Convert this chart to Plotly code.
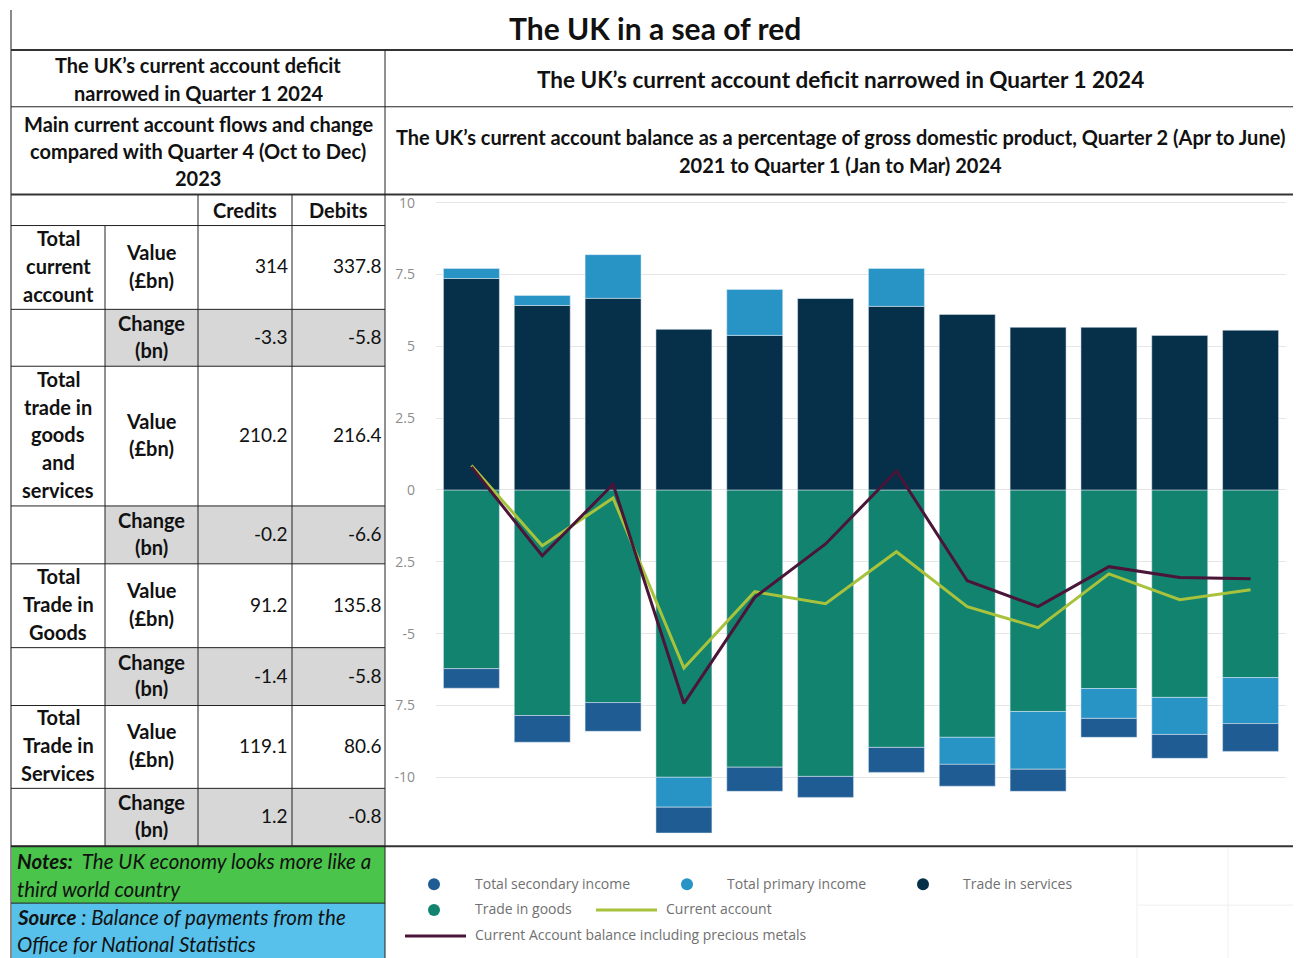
import plotly.graph_objects as go

W, H = 1296, 958

# ---- chart data: % of GDP, Q2 2021 to Q1 2024 ----
quarters = ["2021 Q2", "2021 Q3", "2021 Q4", "2022 Q1", "2022 Q2", "2022 Q3",
            "2022 Q4", "2023 Q1", "2023 Q2", "2023 Q3", "2023 Q4", "2024 Q1"]
trade_in_goods = [-6.22, -7.85, -7.40, -10.00, -9.65, -9.97, -8.96, -8.61, -7.71, -6.91, -7.22, -6.53]
trade_in_services = [7.36, 6.42, 6.67, 5.59, 5.38, 6.67, 6.39, 6.11, 5.66, 5.66, 5.38, 5.56]
primary_income = [0.35, 0.35, 1.52, -1.04, 1.60, 0.00, 1.32, -0.94, -2.01, -1.04, -1.29, -1.60]
secondary_income = [-0.68, -0.93, -1.00, -0.90, -0.84, -0.73, -0.87, -0.76, -0.77, -0.66, -0.83, -0.97]
current_account = [0.85, -1.94, -0.28, -6.20, -3.54, -3.96, -2.15, -4.06, -4.79, -2.92, -3.82, -3.47]
ca_incl_metals = [0.80, -2.29, 0.20, -7.43, -3.74, -1.88, 0.66, -3.16, -4.06, -2.67, -3.05, -3.09]

y_tick_vals = [10, 7.5, 5, 2.5, 0, -2.5, -5, -7.5, -10]
y_tick_text = ["10", "7.5", "5", "2.5", "0", "2.5", "-5", "7.5", "-10"]

# ---- table data: £bn, Q1 2024 ----
row_labels = [["Total", "current", "account"],
              ["Total", "trade in", "goods", "and", "services"],
              ["Total", "Trade in", "Goods"],
              ["Total", "Trade in", "Services"]]
credits_value = [314, 210.2, 91.2, 119.1]
debits_value = [337.8, 216.4, 135.8, 80.6]
credits_change = [-3.3, -0.2, -1.4, 1.2]
debits_change = [-5.8, -6.6, -5.8, -0.8]

# ---- colours ----
C_SERV = "#06304a"
C_GOODS = "#12836f"
C_PRIM = "#2894c6"
C_SEC = "#1f5c93"
C_CA = "#a8c23c"
C_MET = "#4a1538"

TXT_FONT = "Lato"
CHART_FONT = "Open Sans"
INK = "#111111"


def px(x):
    return x / W


def py(y):
    return 1 - y / H


fig = go.Figure()

fig.add_trace(go.Bar(x=quarters, y=trade_in_goods, name="Trade in goods", marker_color=C_GOODS))
fig.add_trace(go.Bar(x=quarters, y=trade_in_services, name="Trade in services", marker_color=C_SERV))
fig.add_trace(go.Bar(x=quarters, y=primary_income, name="Total primary income", marker_color=C_PRIM))
fig.add_trace(go.Bar(x=quarters, y=secondary_income, name="Total secondary income", marker_color=C_SEC))
fig.add_trace(go.Scatter(x=quarters, y=current_account, name="Current account", mode="lines",
                         line=dict(color=C_CA, width=3)))
fig.add_trace(go.Scatter(x=quarters, y=ca_incl_metals, name="Current Account balance including precious metals",
                         mode="lines", line=dict(color=C_MET, width=3)))

shapes = []
annotations = []


def hline(y, x0, x1, width=1, color="#222222"):
    shapes.append(dict(type="line", xref="paper", yref="paper", x0=px(x0), x1=px(x1),
                       y0=py(y), y1=py(y), line=dict(color=color, width=width)))


def vline(x, y0, y1, width=1, color="#222222"):
    shapes.append(dict(type="line", xref="paper", yref="paper", x0=px(x), x1=px(x),
                       y0=py(y0), y1=py(y1), line=dict(color=color, width=width)))


def rect(x0, y0, x1, y1, fill):
    shapes.append(dict(type="rect", xref="paper", yref="paper", x0=px(x0), x1=px(x1),
                       y0=py(y1), y1=py(y0), fillcolor=fill, line=dict(width=0), layer="below"))


def text(x, y, s, size=20, anchor="center", color=INK, family=TXT_FONT):
    # nudge larger type up slightly so the glyphs sit centred on y
    yy = y - 0.08 * size
    annotations.append(dict(xref="paper", yref="paper", x=px(x), y=py(yy), text=s,
                            showarrow=False, xanchor=anchor, yanchor="middle",
                            font=dict(family=family, size=size, color=color)))


def lines(x, y0, step, items, bold=True, size=20, anchor="center"):
    for i, s in enumerate(items):
        text(x, y0 + i * step, f"<b>{s}</b>" if bold else s, size=size, anchor=anchor)


# ---- backgrounds ----
rows_y = [224, 308, 365, 505, 563, 647, 705, 788, 846]
for k in range(4):
    rect(105, rows_y[2 * k + 1], 385, rows_y[2 * k + 2], "#d7d7d7")
rect(12, 846, 385, 903, "#4ac44a")
rect(12, 903, 385, 958, "#57c1eb")

# ---- grid / borders ----
vline(11, 8, 958, width=2, color="#8a8a8a")
hline(48, 11, 1293, width=2, color="#333333")
hline(105, 11, 1293, width=1)
hline(193, 11, 1293, width=2, color="#333333")
hline(846, 11, 1293, width=2, color="#333333")
vline(385, 48, 958, width=1)
hline(224, 11, 385)
for y in rows_y[1:]:
    hline(y, 11, 385)
vline(105, 224, 846)
vline(198, 193, 846)
vline(292, 193, 846)
hline(903, 11, 385)
# faint sheet gridlines in the legend strip
for x in (1137, 1228):
    vline(x, 848, 958, color="#efefef")
hline(905, 1137, 1293, color="#efefef")

# ---- titles ----
text(655, 28, "<b>The UK in a sea of red</b>", size=30)
lines(198, 65, 28, ["The UK’s current account deficit", "narrowed in Quarter 1 2024"])
lines(198, 124, 27, ["Main current account flows and change",
                     "compared with Quarter 4 (Oct to Dec)", "2023"])
text(840, 79, "<b>The UK’s current account deficit narrowed in Quarter 1 2024</b>", size=22.5)
lines(840, 137, 28, ["The UK’s current account balance as a percentage of gross domestic product, Quarter 2 (Apr to June)",
                     "2021 to Quarter 1 (Jan to Mar) 2024"], size=20)

# ---- table body ----
text(245, 210, "<b>Credits</b>")
text(338, 210, "<b>Debits</b>")


def fmt(v):
    return f"{v:g}"


VAL = 19
for k in range(4):
    top, mid, bot = rows_y[2 * k], rows_y[2 * k + 1], rows_y[2 * k + 2]
    labs = row_labels[k]
    c = (top + mid) / 2
    lines(58, c - (len(labs) - 1) * 14, 28, labs)
    lines(151, c - 14, 28, ["Value", "(£bn)"])
    text(290, c, fmt(credits_value[k]), anchor="right", size=VAL)
    text(384, c, fmt(debits_value[k]), anchor="right", size=VAL)
    c2 = (mid + bot) / 2
    lines(151, c2 - 13.5, 27, ["Change", "(bn)"])
    text(290, c2, fmt(credits_change[k]), anchor="right", size=VAL)
    text(384, c2, fmt(debits_change[k]), anchor="right", size=VAL)

NOTE = 20.5
text(15, 862, "<b><i>Notes:</i></b><i>  The UK economy looks more like a</i>", size=NOTE, anchor="left")
text(15, 890, "<i>third world country</i>", size=NOTE, anchor="left")
text(15, 919, "<b><i>Source</i></b><i> : Balance of payments from the</i>", size=NOTE, anchor="left")
text(15, 946, "<i>Office for National Statistics</i>", size=NOTE, anchor="left")

# ---- legend ----
LEG = "#707070"
LEGS = 14


def dot(x, y, color):
    shapes.append(dict(type="circle", xref="paper", yref="paper",
                       x0=px(x - 6), x1=px(x + 6), y0=py(y + 6), y1=py(y - 6),
                       fillcolor=color, line=dict(width=0)))


dot(434, 884, C_SEC)
text(473, 884, "Total secondary income", size=LEGS, anchor="left", color=LEG, family=CHART_FONT)
dot(687, 884, C_PRIM)
text(725, 884, "Total primary income", size=LEGS, anchor="left", color=LEG, family=CHART_FONT)
dot(923, 884, C_SERV)
text(961, 884, "Trade in services", size=LEGS, anchor="left", color=LEG, family=CHART_FONT)
dot(434, 910, C_GOODS)
text(473, 910, "Trade in goods", size=LEGS, anchor="left", color=LEG, family=CHART_FONT)
hline(910, 596, 657, width=3, color=C_CA)
text(664, 910, "Current account", size=LEGS, anchor="left", color=LEG, family=CHART_FONT)
hline(936, 405, 466, width=3, color=C_MET)
text(473, 936, "Current Account balance including precious metals", size=LEGS, anchor="left",
     color=LEG, family=CHART_FONT)

fig.update_layout(
    width=W, height=H,
    margin=dict(l=0, r=0, t=0, b=0),
    paper_bgcolor="white", plot_bgcolor="white",
    barmode="relative", bargap=0.21,
    showlegend=False,
    shapes=shapes, annotations=annotations,
    xaxis=dict(domain=[px(436), px(1286)], showticklabels=False, showgrid=False,
               zeroline=False, showline=False, ticks=""),
    yaxis=dict(domain=[py(846), py(193)], range=[-12.40, 10.28],
               tickvals=y_tick_vals, ticktext=y_tick_text,
               tickfont=dict(family=CHART_FONT, size=14, color="#8c8c8c"),
               ticklabelstandoff=20, ticks="",
               showgrid=True, gridcolor="#e6e6e6", gridwidth=1,
               zeroline=False, showline=False),
)

fig.write_html("out.html")
